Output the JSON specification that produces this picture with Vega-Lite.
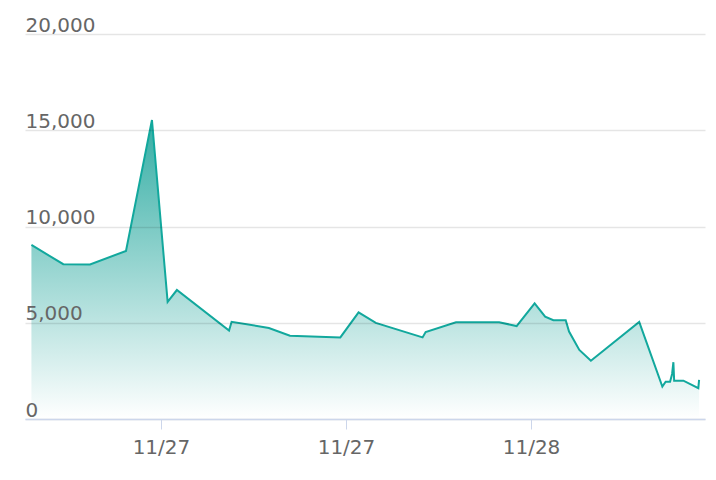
{
  "$schema": "https://vega.github.io/schema/vega-lite/v6.json",
  "width": 680,
  "height": 385,
  "autosize": "none",
  "padding": {"left": 25, "top": 34, "right": 11, "bottom": 61},
  "background": "#ffffff",
  "config": {
    "view": {"stroke": null},
    "font": "DejaVu Sans"
  },
  "data": {
    "values": [
      {"time": "2023-11-26T15:36:00", "value": 9040},
      {"time": "2023-11-26T17:40:00", "value": 8040},
      {"time": "2023-11-26T19:24:00", "value": 8030},
      {"time": "2023-11-26T21:44:00", "value": 8730},
      {"time": "2023-11-26T23:25:00", "value": 15530},
      {"time": "2023-11-27T00:26:00", "value": 6080},
      {"time": "2023-11-27T01:02:00", "value": 6700},
      {"time": "2023-11-27T04:25:00", "value": 4590},
      {"time": "2023-11-27T04:35:00", "value": 5050},
      {"time": "2023-11-27T07:00:00", "value": 4730},
      {"time": "2023-11-27T08:22:00", "value": 4330},
      {"time": "2023-11-27T11:38:00", "value": 4240},
      {"time": "2023-11-27T12:49:00", "value": 5540},
      {"time": "2023-11-27T13:56:00", "value": 4990},
      {"time": "2023-11-27T16:58:00", "value": 4240},
      {"time": "2023-11-27T17:10:00", "value": 4520},
      {"time": "2023-11-27T19:08:00", "value": 5020},
      {"time": "2023-11-27T21:56:00", "value": 5020},
      {"time": "2023-11-27T23:04:00", "value": 4830},
      {"time": "2023-11-28T00:14:00", "value": 6010},
      {"time": "2023-11-28T00:55:00", "value": 5320},
      {"time": "2023-11-28T01:27:00", "value": 5130},
      {"time": "2023-11-28T02:15:00", "value": 5130},
      {"time": "2023-11-28T02:28:00", "value": 4540},
      {"time": "2023-11-28T03:08:00", "value": 3590},
      {"time": "2023-11-28T03:53:00", "value": 3030},
      {"time": "2023-11-28T07:01:00", "value": 5040},
      {"time": "2023-11-28T08:31:00", "value": 1680},
      {"time": "2023-11-28T08:44:00", "value": 1940},
      {"time": "2023-11-28T09:01:00", "value": 1940},
      {"time": "2023-11-28T09:09:00", "value": 2340},
      {"time": "2023-11-28T09:14:00", "value": 2950},
      {"time": "2023-11-28T09:17:00", "value": 1990},
      {"time": "2023-11-28T09:53:00", "value": 1990},
      {"time": "2023-11-28T10:51:00", "value": 1600},
      {"time": "2023-11-28T10:54:00", "value": 2030}
    ]
  },
  "encoding": {
    "x": {
      "field": "time",
      "type": "temporal",
      "title": null,
      "scale": {
        "domain": [
          {"year": 2023, "month": 11, "date": 26, "hours": 15, "minutes": 11},
          {"year": 2023, "month": 11, "date": 28, "hours": 11, "minutes": 17}
        ]
      },
      "axis": {
        "values": [
          {"year": 2023, "month": 11, "date": 27, "hours": 0},
          {"year": 2023, "month": 11, "date": 27, "hours": 12},
          {"year": 2023, "month": 11, "date": 28, "hours": 0}
        ],
        "format": "%m/%d",
        "grid": false,
        "domainColor": "#ccd6eb",
        "domainWidth": 1.5,
        "tickColor": "#ccd6eb",
        "tickSize": 10,
        "tickWidth": 1,
        "labelFont": "DejaVu Sans",
        "labelFontSize": 20,
        "labelColor": "#666666",
        "labelPadding": 8,
        "labelFlush": false,
        "labelOverlap": false,
        "zindex": 1
      }
    },
    "y": {
      "field": "value",
      "type": "quantitative",
      "title": null,
      "scale": {"domain": [0, 20000], "nice": false},
      "axis": {
        "values": [0, 5000, 10000, 15000, 20000],
        "format": ",.0f",
        "domain": false,
        "ticks": false,
        "grid": true,
        "gridColor": "#000000",
        "gridOpacity": 0.1,
        "gridWidth": 1.5,
        "labelAlign": "left",
        "labelBaseline": "alphabetic",
        "labelPadding": 0,
        "labelOffset": -3,
        "labelFont": "DejaVu Sans",
        "labelFontSize": 20,
        "labelColor": "#666666",
        "zindex": 1
      }
    }
  },
  "layer": [
    {
      "mark": {
        "type": "area",
        "color": {
          "gradient": "linear",
          "x1": 0, "y1": 0, "x2": 0, "y2": 1,
          "stops": [
            {"offset": 0, "color": "#33ada4"},
            {"offset": 1, "color": "#ffffff"}
          ]
        }
      }
    },
    {
      "mark": {"type": "line", "color": "#12a89d", "strokeWidth": 2}
    }
  ]
}
